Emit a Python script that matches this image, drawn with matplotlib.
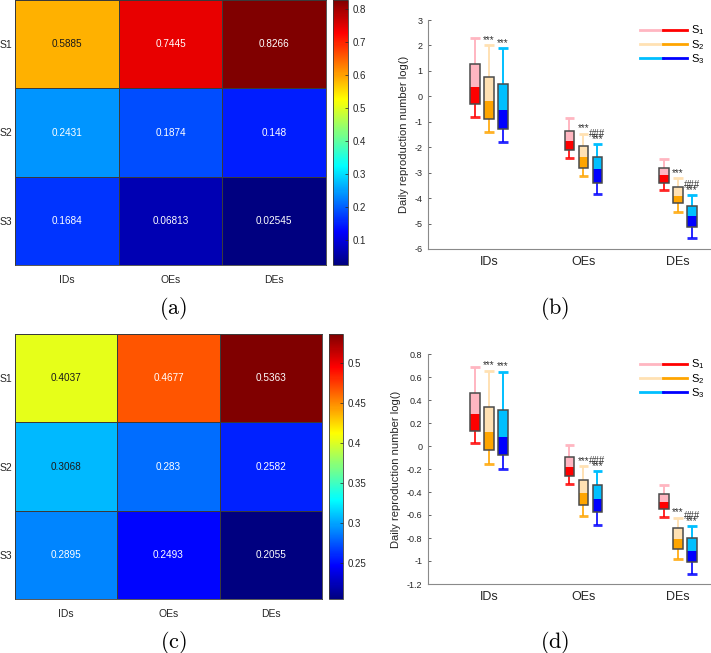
import matplotlib
matplotlib.use('Agg')
import matplotlib.pyplot as plt
import numpy as np
from matplotlib.lines import Line2D
from matplotlib.legend_handler import HandlerTuple
from matplotlib.ticker import FormatStrFormatter
from matplotlib.colors import LinearSegmentedColormap

plt.rcParams['font.family'] = ['Liberation Sans', 'DejaVu Sans']
plt.rcParams['mathtext.fontset'] = 'custom'
plt.rcParams['mathtext.rm'] = 'Liberation Sans'
plt.rcParams['mathtext.it'] = 'Liberation Sans'

# ---- data ----
rows = ['S1', 'S2', 'S3']
cols = ['IDs', 'OEs', 'DEs']
heat_a = np.array([[0.5885, 0.7445, 0.8266],
                   [0.2431, 0.1874, 0.148],
                   [0.1684, 0.06813, 0.02545]])
heat_c = np.array([[0.4037, 0.4677, 0.5363],
                   [0.3068, 0.283, 0.2582],
                   [0.2895, 0.2493, 0.2055]])
ticks_a = [0.1, 0.2, 0.3, 0.4, 0.5, 0.6, 0.7, 0.8]
ticks_c = [0.25, 0.3, 0.35, 0.4, 0.45, 0.5]

series = ['S$_1$', 'S$_2$', 'S$_3$']
# box stats per series: rows = IDs, OEs, DEs ; cols = low whisker, q1, median, q3, high whisker
box_b = {
    'S1': [[-0.81, -0.31, 0.37, 1.26, 2.31],
           [-2.43, -2.12, -1.76, -1.36, -0.87],
           [-3.69, -3.40, -3.09, -2.80, -2.48]],
    'S2': [[-1.40, -0.89, -0.18, 0.76, 2.00],
           [-3.15, -2.80, -2.38, -1.95, -1.48],
           [-4.53, -4.19, -3.90, -3.56, -3.22]],
    'S3': [[-1.80, -1.27, -0.55, 0.47, 1.89],
           [-3.82, -3.39, -2.86, -2.39, -1.88],
           [-5.55, -5.15, -4.72, -4.32, -3.88]],
}
box_d = {
    'S1': [[0.026, 0.133, 0.275, 0.464, 0.69],
           [-0.333, -0.261, -0.183, -0.093, 0.012],
           [-0.614, -0.551, -0.484, -0.414, -0.342]],
    'S2': [[-0.159, -0.038, 0.119, 0.339, 0.655],
           [-0.609, -0.51, -0.406, -0.293, -0.174],
           [-0.983, -0.896, -0.809, -0.716, -0.623]],
    'S3': [[-0.20, -0.078, 0.081, 0.313, 0.646],
           [-0.687, -0.577, -0.464, -0.339, -0.22],
           [-1.11, -1.012, -0.91, -0.803, -0.699]],
}
# significance marks: (series, group index) -> labels
marks = {('S2', 0): ['***'], ('S3', 0): ['***'],
         ('S2', 1): ['***'], ('S3', 1): ['***', '###'],
         ('S2', 2): ['***'], ('S3', 2): ['***', '###']}

light = {'S1': '#FFB6C1', 'S2': '#FFE1B3', 'S3': '#00BFFF'}
dark = {'S1': '#FF0000', 'S2': '#FFA500', 'S3': '#0000FF'}
offsets = {'S1': -0.148, 'S2': 0.0, 'S3': 0.148}

# MATLAB style jet
mjet = LinearSegmentedColormap('mjet', {
    'red': [(0, 0, 0), (0.375, 0, 0), (0.625, 1, 1), (0.875, 1, 1), (1, 0.5, 0.5)],
    'green': [(0, 0, 0), (0.125, 0, 0), (0.375, 1, 1), (0.625, 1, 1), (0.875, 0, 0), (1, 0, 0)],
    'blue': [(0, 0.5, 0.5), (0.125, 1, 1), (0.375, 1, 1), (0.625, 0, 0), (1, 0, 0)],
}, N=256)

W, H = 711, 653
fig = plt.figure(figsize=(W / 100, H / 100), dpi=100)


def pax(x0, y0, x1, y1):
    return [x0 / W, 1 - y1 / H, (x1 - x0) / W, (y1 - y0) / H]


def heatmap(rect, crect, data, ticks):
    ax = fig.add_axes(pax(*rect))
    vmin, vmax = data.min(), data.max()
    mesh = ax.pcolormesh(np.arange(4) + 0.5, np.arange(4) + 0.5, data, cmap=mjet,
                         vmin=vmin, vmax=vmax, edgecolors='#3a3a3a', linewidth=0.4)
    ax.set_xlim(0.5, 3.5)
    ax.set_ylim(3.5, 0.5)
    ax.set_xticks([1, 2, 3])
    ax.set_xticklabels(cols)
    ax.set_yticks([1, 2, 3])
    ax.set_yticklabels(rows)
    ax.tick_params(axis='x', length=0, labelsize=7.5, colors='#262626', pad=7)
    ax.tick_params(axis='y', length=0, labelsize=7.5, colors='#262626', pad=2)
    for s in ax.spines.values():
        s.set_color('#3a3a3a')
        s.set_linewidth(0.6)
    for i in range(3):
        for j in range(3):
            v = data[i, j]
            r, g, b, _ = mjet((v - vmin) / (vmax - vmin))
            lum = 0.2126 * r + 0.7152 * g + 0.0722 * b
            ax.text(j + 1, i + 1, f'{v:.4g}', ha='center', va='center', fontsize=7.2,
                    color='#1a1a1a' if lum > 0.55 else 'white')
    cax = fig.add_axes(pax(*crect))
    cb = fig.colorbar(mesh, cax=cax, ticks=ticks)
    cb.ax.yaxis.set_major_formatter(FormatStrFormatter('%g'))
    cb.ax.tick_params(direction='in', length=2, width=0.5, labelsize=7, colors='#262626', pad=3)
    cb.outline.set_edgecolor('#3a3a3a')
    cb.outline.set_linewidth(0.6)
    return ax


def boxes(rect, stats, ylim, yticks, ylabels):
    ax = fig.add_axes(pax(*rect))
    gx = np.arange(1, 4)
    bw = 0.1
    for key in ['S1', 'S2', 'S3']:
        st = np.array(stats[key])
        xs = gx + offsets[key]
        lo, q1, med, q3, hi = st.T
        ax.vlines(xs, q3, hi, color=light[key], lw=1.4, zorder=2)
        ax.vlines(xs, lo, q1, color=dark[key], lw=1.4, zorder=2, alpha=0.85)
        ax.hlines(hi, xs - bw / 2, xs + bw / 2, color=light[key], lw=2, zorder=2)
        ax.hlines(lo, xs - bw / 2, xs + bw / 2, color=dark[key], lw=2, zorder=2, alpha=0.85)
        ax.bar(xs, med - q1, bottom=q1, width=bw, color=dark[key], zorder=3)
        ax.bar(xs, q3 - med, bottom=med, width=bw, color=light[key], zorder=3)
        ax.bar(xs, q3 - q1, bottom=q1, width=bw, fill=False, edgecolor='#4a4a4a',
               lw=1.1, zorder=4)
        for g in range(3):
            labs = marks.get((key, g), [])
            for k, lab in enumerate(labs):
                ax.annotate(lab, (xs[g], hi[g]), xytext=(0, 0.3 + 3.6 * k),
                            textcoords='offset points', ha='center', va='bottom',
                            fontsize=7, color='#333333', zorder=5)
    ax.set_xlim(0.355, 3.35)
    ax.set_ylim(*ylim)
    ax.set_xticks(gx)
    ax.set_xticklabels(cols)
    ax.set_yticks(yticks)
    ax.set_yticklabels(ylabels)
    ax.tick_params(axis='x', length=0, labelsize=9, colors='#262626', pad=5)
    ax.tick_params(axis='y', direction='in', length=2.5, width=0.5, labelsize=6.5,
                   colors='#262626', pad=4)
    for s in ['top', 'right']:
        ax.spines[s].set_visible(False)
    for s in ['left', 'bottom']:
        ax.spines[s].set_color('#8a8a8a')
        ax.spines[s].set_linewidth(0.8)
    ax.set_ylabel('Daily reproduction number log()', fontsize=8, color='#262626', labelpad=4)
    handles = [(Line2D([], [], color=light[k], lw=2), Line2D([], [], color=dark[k], lw=2))
               for k in ['S1', 'S2', 'S3']]
    ax.legend(handles, series, handler_map={tuple: HandlerTuple(ndivide=None, pad=0)},
              loc='upper left', bbox_to_anchor=(0.749, 0.985), frameon=False, fontsize=8,
              handlelength=4.2, handletextpad=0.4, labelspacing=0.05, borderaxespad=0,
              borderpad=0)
    return ax


heatmap((15, 0, 326, 265), (333, 0, 348, 265), heat_a, ticks_a)
heatmap((15, 334, 322, 599), (329, 334, 343, 599), heat_c, ticks_c)
boxes((428, 20, 711, 249), box_b, (-6, 3), list(range(-6, 4)), [str(v) for v in range(-6, 4)])
dt = [-1.2, -1, -0.8, -0.6, -0.4, -0.2, 0, 0.2, 0.4, 0.6, 0.8]
boxes((428, 354, 711, 584), box_d, (-1.2, 0.8), dt, [f'{v:g}' for v in dt])

for lab, x, y in [('(a)', 173, 308), ('(b)', 555, 308), ('(c)', 173, 642), ('(d)', 555, 642)]:
    fig.text(x / W, 1 - y / H, r'$\mathrm{' + lab + '}$', ha='center', va='center',
             fontsize=16, math_fontfamily='cm')

fig.savefig('out.png', dpi=100)
